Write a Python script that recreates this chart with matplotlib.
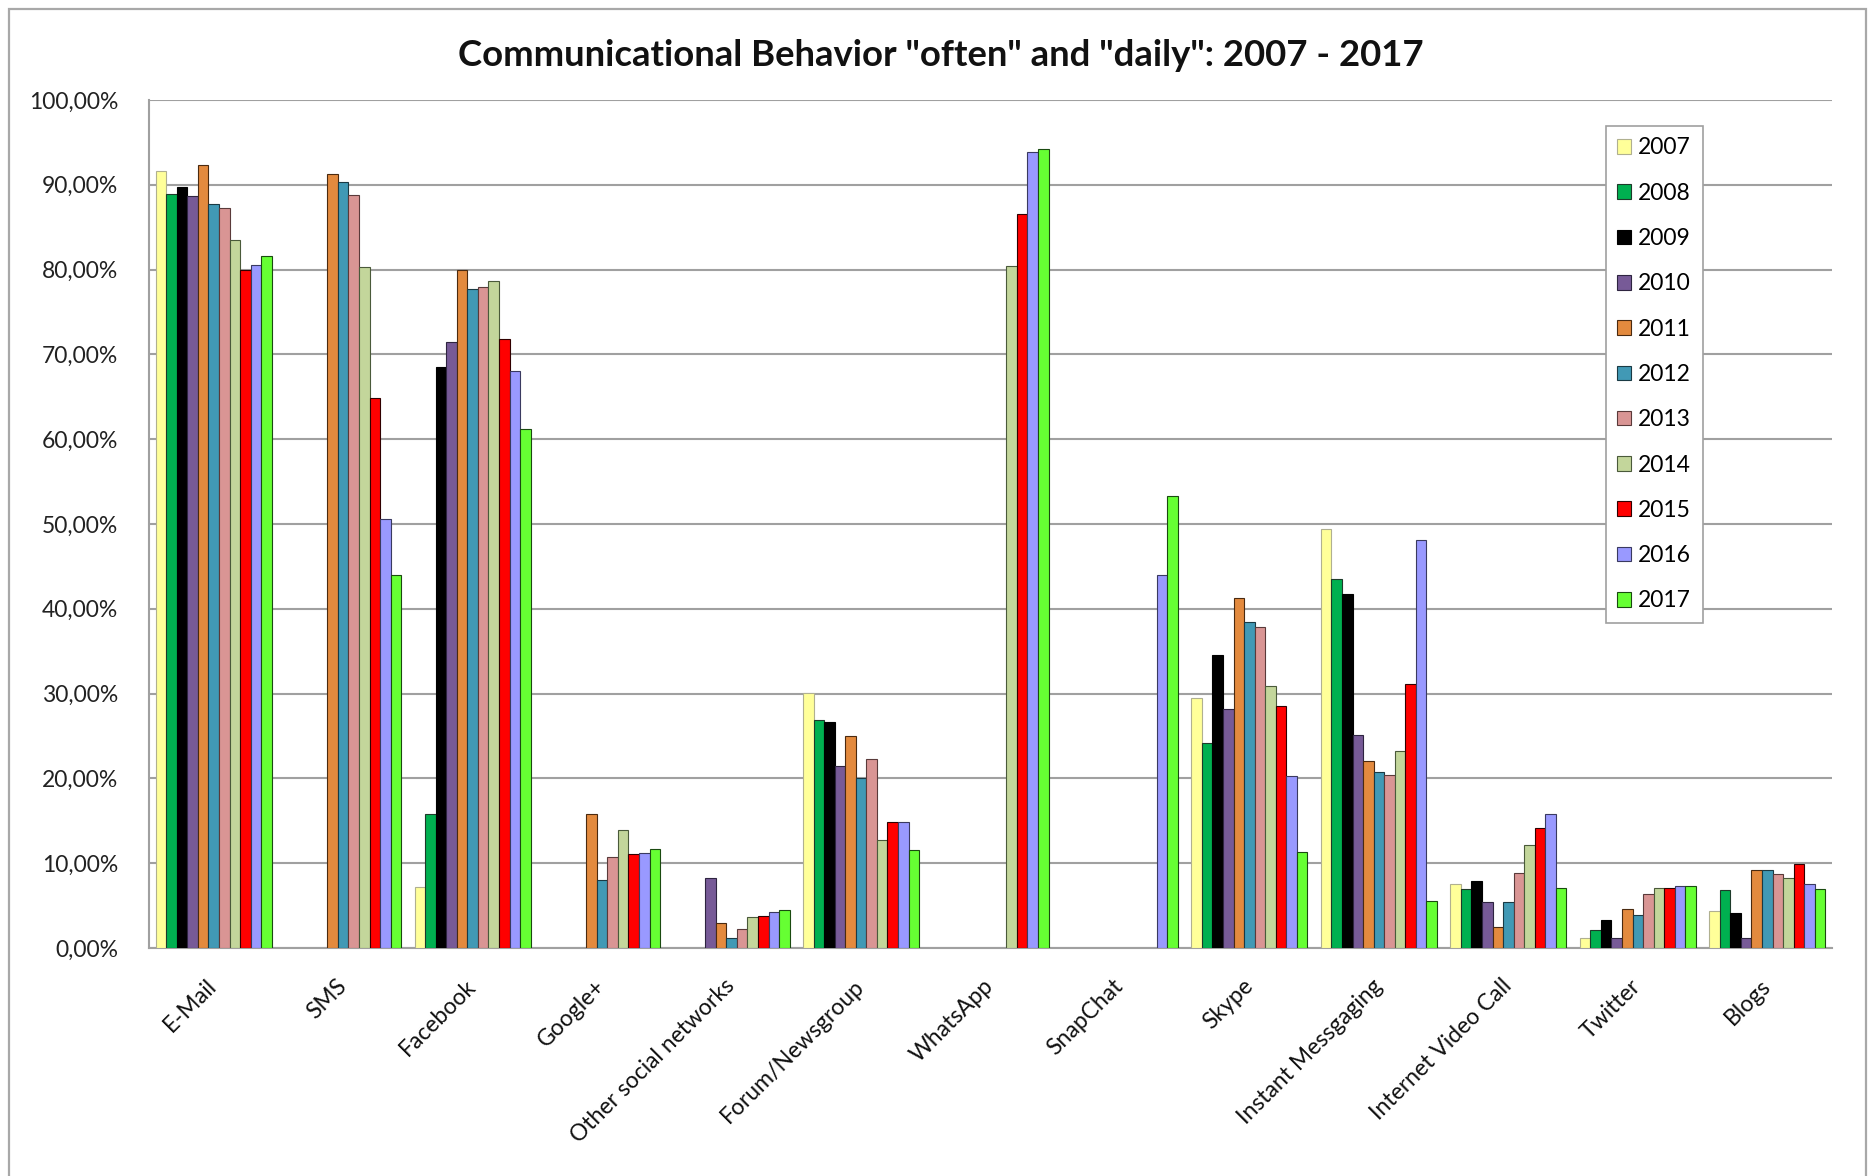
import numpy as np
import matplotlib
matplotlib.use("Agg")
import matplotlib.pyplot as plt
from matplotlib.patches import Patch, Rectangle
from matplotlib.ticker import FuncFormatter, MultipleLocator

plt.rcParams['font.family'] = ['Lato', 'DejaVu Sans']

categories = ["E-Mail", "SMS", "Facebook", "Google+", "Other social networks",
              "Forum/Newsgroup", "WhatsApp", "SnapChat", "Skype",
              "Instant Messgaging", "Internet Video Call", "Twitter", "Blogs"]
years = ["2007", "2008", "2009", "2010", "2011", "2012", "2013", "2014",
         "2015", "2016", "2017"]
nan = np.nan
# values in percent, one list per year, ordered as categories
v2007 = [91.6, nan, 7.2, nan, nan, 30.1, nan, nan, 29.5, 49.4, 7.5, 1.2, 4.4]
v2008 = [88.9, nan, 15.8, nan, nan, 26.9, nan, nan, 24.2, 43.5, 6.9, 2.1, 6.8]
v2009 = [89.7, nan, 68.5, nan, nan, 26.7, nan, nan, 34.5, 41.7, 7.9, 3.3, 4.1]
v2010 = [88.7, nan, 71.5, nan, 8.3, 21.5, nan, nan, 28.2, 25.1, 5.4, 1.2, 1.2]
v2011 = [92.3, 91.3, 80.0, 15.8, 3.0, 25.0, nan, nan, 41.3, 22.0, 2.5, 4.6, 9.2]
v2012 = [87.7, 90.3, 77.7, 8.0, 1.2, 20.0, nan, nan, 38.5, 20.7, 5.4, 3.9, 9.2]
v2013 = [87.3, 88.8, 77.9, 10.7, 2.2, 22.3, nan, nan, 37.8, 20.4, 8.8, 6.4, 8.7]
v2014 = [83.5, 80.3, 78.7, 13.9, 3.6, 12.7, 80.4, nan, 30.9, 23.2, 12.2, 7.1, 8.3]
v2015 = [79.9, 64.9, 71.8, 11.1, 3.8, 14.9, 86.5, nan, 28.5, 31.1, 14.2, 7.1, 9.9]
v2016 = [80.6, 50.6, 68.0, 11.2, 4.2, 14.9, 93.9, 44.0, 20.3, 48.1, 15.8, 7.3, 7.6]
v2017 = [81.6, 44.0, 61.2, 11.7, 4.5, 11.5, 94.2, 53.3, 11.3, 5.6, 7.1, 7.3, 6.9]
series = [v2007, v2008, v2009, v2010, v2011, v2012, v2013, v2014, v2015, v2016, v2017]

colors = ["#FFFF99", "#00B050", "#000000", "#775A97", "#E38A3E", "#4199B5",
          "#D99594", "#C3D69B", "#FF0000", "#9999FF", "#66FF33"]
edges = ["#B0B090", "#1E3A2A", "#000000", "#2E2440", "#4A2A10", "#1A3A44",
         "#5A3A3A", "#4A5A3A", "#300000", "#3A3A60", "#1A4A10"]

fig = plt.figure(figsize=(18.68, 11.76), dpi=100)
fig.patch.set_facecolor("white")
# outer chart frame
fig.patches.append(Rectangle((9/1868, -0.05), (1866-9)/1868, 1 - 9/1176 + 0.05,
                             transform=fig.transFigure, fill=False,
                             edgecolor="#A8A8A8", linewidth=1.6))

ax = fig.add_axes([149/1868, 1 - 948/1176, (1832-149)/1868, (948-100)/1176])
n = len(series)
x = np.arange(len(categories))
bw = 0.0815
for i, vals in enumerate(series):
    ax.bar(x - (n - 1) / 2 * bw + i * bw, vals, width=bw, color=colors[i],
           edgecolor=edges[i], linewidth=0.8, zorder=3)

ax.set_xlim(-0.5, len(categories) - 0.5)
ax.set_ylim(0, 100)
ax.yaxis.set_major_locator(MultipleLocator(10))
ax.yaxis.set_major_formatter(FuncFormatter(lambda v, p: f"{v:.2f}%".replace('.', ',')))
ax.grid(axis='y', color="#A0A0A0", linewidth=1.5, zorder=0)
ax.set_axisbelow(True)
for s in ["top", "right"]:
    ax.spines[s].set_visible(False)
for s in ["left", "bottom"]:
    ax.spines[s].set_color("#A0A0A0")
    ax.spines[s].set_linewidth(1.5)

ax.set_xticks(x)
ax.set_xticklabels(categories, rotation=45, ha='right', va='center',
                   rotation_mode='anchor', fontsize=16.5, color="#111111")
ax.tick_params(axis='x', length=0, pad=25)
ax.tick_params(axis='y', length=0, pad=22, labelsize=16.5, labelcolor="#222222")

fig.text(941/1868, 1 - 56/1176, 'Communicational Behavior "often" and "daily": 2007 - 2017',
         ha='center', va='center', fontsize=26.3, fontweight='bold', color="#111111")

handles = [Patch(facecolor=colors[i], edgecolor=edges[i], linewidth=0.8) for i in range(n)]
leg = fig.legend(handles, years, loc='upper left',
                 bbox_to_anchor=(1606/1868, 1 - 126/1176), borderaxespad=0,
                 fontsize=16.5, handlelength=0.6, handleheight=0.6,
                 handletextpad=0.3, labelspacing=1.06, fancybox=False,
                 edgecolor="#A0A0A0", framealpha=1, borderpad=0.5)
leg.get_frame().set_linewidth(1.2)

fig.savefig("out.png", dpi=100, facecolor="white")
